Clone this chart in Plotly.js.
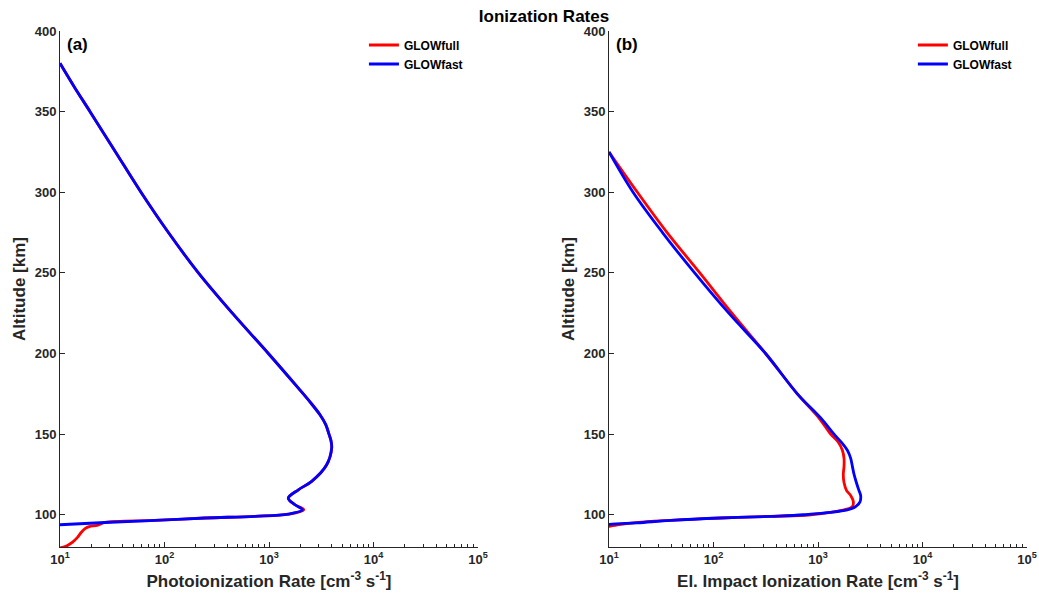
<!DOCTYPE html>
<html>
<head>
<meta charset="utf-8">
<script src="https://cdn.plot.ly/plotly-3.0.1.min.js"></script>
<style>html,body{margin:0;padding:0;background:#fff;}#chart{width:1039px;height:596px;}</style>
</head>
<body>
<div id="chart"></div>
<script>
// ---- Data ----
// Panel (a): Photoionization rate [cm^-3 s^-1] vs altitude [km]
const photoAltFull = [380,365,350,325,300,275,250,225,200,178.5,170,162,156,150,146,141.3,131,120.7,115.5,110.3,106.2,103.1,100.4,99,98,96.5,95.2,93.5,92.6,91.5,89.3,86,83,81,80,79.5];
const photoFull    = [10,13.8,19.4,34,59.6,109,211,446,986,1910,2466,3075,3484,3750,3917,3980,3565,2560,1910,1530,1774,2150,1560,734,244,81,27,23,19,17.5,16.1,14.7,13.2,11.8,10.8,10];
const photoAltFast = [380,365,350,325,300,275,250,225,200,178.5,170,162,156,150,146,141.3,131,120.7,115.5,110.3,106.2,103.1,100.4,99,98,96.5,95.2,93.8,92.5];
const photoFast    = [10,13.8,19.4,34,59.6,109,211,446,986,1910,2466,3075,3484,3750,3917,3980,3565,2560,1910,1530,1774,2085,1530,734,244,81,27,10,3];

// Panel (b): Electron impact ionization rate [cm^-3 s^-1] vs altitude [km]
const impactAltFull = [325,300,275,250,225,200,175,160,150,145,140,135,130,125,120,115,112,108,105,103,100,99,98,96.5,95,93.8,92.8,91];
const impactFull    = [10,18.7,36,74,150,315,634,1023,1321,1565,1711,1774,1774,1746,1774,1879,2055,2180,2130,1774,851,352,117,39,17,12,10,7];
const impactAltFast = [325,300,275,250,225,200,175,160,150,145,140,135,130,125,120,115,112,108,105,103,100,99,98,96.5,95,94,92];
const impactFast    = [10,17,32.5,66,140,315,634,1062,1422,1670,1909,2055,2133,2213,2328,2467,2559,2523,2292,1909,734,352,117,39,18.6,10,5];

const seriesNames = ['GLOWfull', 'GLOWfast'];
const xTickVals = [10, 100, 1000, 10000, 100000];
const xTickText = ['10<sup>1</sup>', '10<sup>2</sup>', '10<sup>3</sup>', '10<sup>4</sup>', '10<sup>5</sup>'];
const yTickVals = [100, 150, 200, 250, 300, 350, 400];

// ---- Styling ----
const FONT = 'Liberation Sans, Arial, Helvetica, sans-serif';
const AX = '#262626';
const minorVals = [];
for (let d = 10; d < 100000; d *= 10) for (let k = 2; k <= 9; k++) minorVals.push(d * k);

function xAxis(domain, title, anchor) {
  return {
    domain: domain, anchor: anchor, type: 'log', range: [1, 5],
    tickmode: 'array', tickvals: xTickVals, ticktext: xTickText,
    ticks: 'inside', ticklen: 5, tickwidth: 1, tickcolor: AX,
    showline: true, linecolor: AX, linewidth: 1, mirror: false,
    showgrid: false, zeroline: false,
    tickfont: {family: FONT, size: 13, color: AX, weight: 'bold'},
    minor: {tickmode: 'array', tickvals: minorVals, ticks: 'inside', ticklen: 3, tickwidth: 1, tickcolor: AX, showgrid: false},
    title: {text: title, font: {family: FONT, size: 17, color: AX, weight: 'bold'}, standoff: 9}
  };
}
function yAxis(anchor) {
  return {
    domain: [0, 1], anchor: anchor, range: [80, 400],
    tickmode: 'array', tickvals: yTickVals,
    ticks: 'inside', ticklen: 5, tickwidth: 1, tickcolor: AX,
    showline: true, linecolor: AX, linewidth: 1, mirror: false,
    showgrid: false, zeroline: false,
    tickfont: {family: FONT, size: 13, color: AX, weight: 'bold'},
    title: {text: 'Altitude [km]', font: {family: FONT, size: 17, color: AX, weight: 'bold'}, standoff: 4}
  };
}

const lineW = 2.8;
const lineStyle = (c) => ({color: c, width: lineW, shape: 'spline', smoothing: 1});
const traces = [
  {x: photoFull, y: photoAltFull, xaxis: 'x', yaxis: 'y', name: seriesNames[0], legend: 'legend',
   mode: 'lines', line: lineStyle('#ff0000')},
  {x: photoFast, y: photoAltFast, xaxis: 'x', yaxis: 'y', name: seriesNames[1], legend: 'legend',
   mode: 'lines', line: lineStyle('#0000ff')},
  {x: impactFull, y: impactAltFull, xaxis: 'x2', yaxis: 'y2', name: seriesNames[0], legend: 'legend2',
   mode: 'lines', line: lineStyle('#ff0000')},
  {x: impactFast, y: impactAltFast, xaxis: 'x2', yaxis: 'y2', name: seriesNames[1], legend: 'legend2',
   mode: 'lines', line: lineStyle('#0000ff')}
];

const legendStyle = (x) => ({
  x: x, y: 1.001, xanchor: 'left', yanchor: 'top',
  bgcolor: 'rgba(0,0,0,0)', borderwidth: 0,
  font: {family: FONT, size: 12, color: '#000', weight: 'bold'},
  tracegroupgap: 0, itemwidth: 30
});

const layout = {
  width: 1039, height: 596,
  margin: {l: 60, r: 12, t: 31, b: 49, pad: 0},
  paper_bgcolor: '#ffffff', plot_bgcolor: '#ffffff',
  font: {family: FONT, color: AX},
  title: {text: 'Ionization Rates', x: 544 / 1039, xref: 'container', xanchor: 'center',
          y: 1 - 16.5 / 596, yref: 'container', yanchor: 'middle',
          font: {family: FONT, size: 17, color: '#000', weight: 'bold'}},
  xaxis: xAxis([0, 0.43226], 'Photoionization Rate [cm<sup>-3</sup> s<sup>-1</sup>]', 'y'),
  yaxis: yAxis('x'),
  xaxis2: xAxis([0.56774, 1], 'El. Impact Ionization Rate [cm<sup>-3</sup> s<sup>-1</sup>]', 'y2'),
  yaxis2: yAxis('x2'),
  showlegend: true,
  legend: legendStyle(0.3143),
  legend2: legendStyle(0.882),
  annotations: [
    {text: '(a)', xref: 'paper', yref: 'paper', x: 0.0052, y: 0.9748, xanchor: 'left', yanchor: 'middle',
     showarrow: false, font: {family: FONT, size: 17, color: '#000', weight: 'bold'}},
    {text: '(b)', xref: 'paper', yref: 'paper', x: 0.5729, y: 0.9748, xanchor: 'left', yanchor: 'middle',
     showarrow: false, font: {family: FONT, size: 17, color: '#000', weight: 'bold'}}
  ]
};

Plotly.newPlot('chart', traces, layout, {displayModeBar: false, staticPlot: true});
</script>
</body>
</html>
